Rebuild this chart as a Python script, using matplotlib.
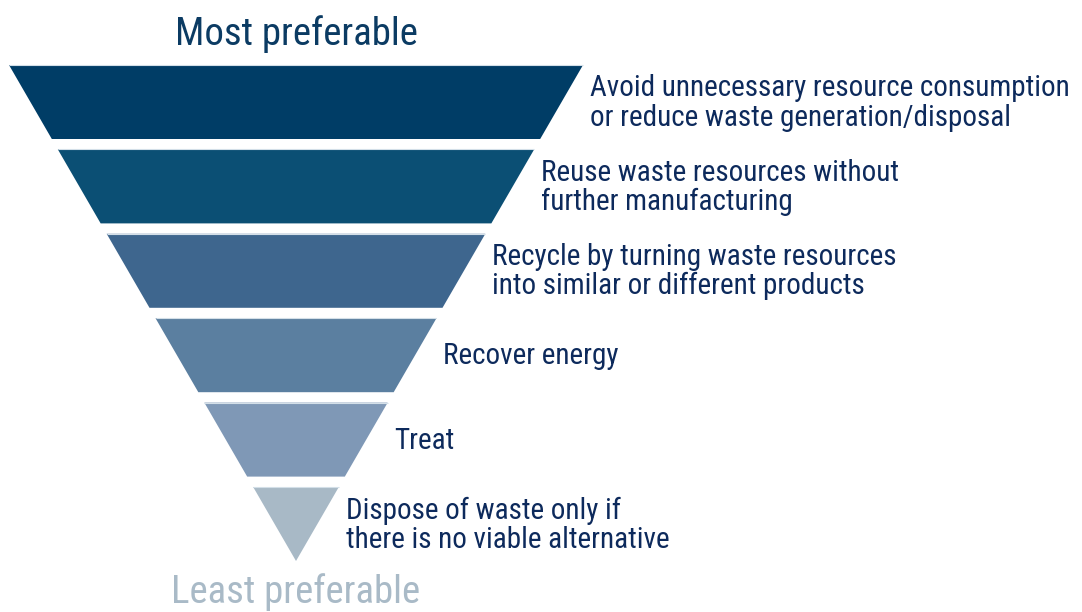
import matplotlib
matplotlib.use("Agg")
import matplotlib.pyplot as plt
from matplotlib.patches import Polygon

# waste hierarchy levels, top (most preferable) to bottom
labels = [
    "Avoid unnecessary resource consumption\nor reduce waste generation/disposal",
    "Reuse waste resources without\nfurther manufacturing",
    "Recycle by turning waste resources\ninto similar or different products",
    "Recover energy",
    "Treat",
    "Dispose of waste only if\nthere is no viable alternative",
]
colors = ["#003d66", "#0b4f74", "#3e668e", "#5b7fa0", "#7f98b6", "#a8b9c6"]
top_text = "Most preferable"
bottom_text = "Least preferable"

plt.rcParams['font.family'] = ['Roboto Condensed', 'Liberation Sans', 'DejaVu Sans']

fig = plt.figure(figsize=(10.82, 6.12), dpi=100)
ax = fig.add_axes([0, 0, 1, 1])
ax.set_xlim(0, 1082)
ax.set_ylim(612, 0)
ax.axis("off")

cx = 296            # funnel centre
y_top = 65          # top of first band
y_apex = 561        # tip of the funnel
half_top = 287      # half width at y_top
band_h = 74
gap = (y_apex - y_top - len(labels) * band_h) / (len(labels) - 1)

def half_w(y):
    return half_top * (y_apex - y) / (y_apex - y_top)

for i, (lab, c) in enumerate(zip(labels, colors)):
    y0 = y_top + i * (band_h + gap)
    y1 = y0 + band_h
    w0, w1 = half_w(y0), half_w(y1)
    pts = [(cx - w0, y0), (cx + w0, y0), (cx + w1, y1), (cx - w1, y1)]
    ax.add_patch(Polygon(pts, closed=True, facecolor=c, edgecolor="none"))
    # faint light edge along the top
    ax.plot([cx - w0, cx + w0], [y0, y0], color="#d3dfe8", lw=0.8, solid_capstyle="butt")
    ax.text(cx + w0 + 7, (y0 + y1) / 2 + 1, lab, ha="left", va="center",
            fontsize=21, color="#0d2a5c", linespacing=1.05)

ax.text(cx, 34, top_text, ha="center", va="center", fontsize=28, color="#0b3b63")
ax.text(cx, 592, bottom_text, ha="center", va="center", fontsize=28, color="#a9bac7")

fig.savefig("out.png", dpi=100)
